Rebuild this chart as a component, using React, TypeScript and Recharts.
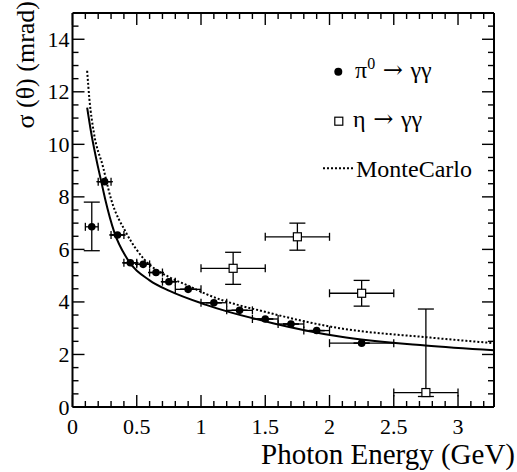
import { ComposedChart, Line, Scatter, ErrorBar, XAxis, YAxis } from "recharts";

// pi0 -> gamma gamma
const PI0_E = [0.15, 0.25, 0.35, 0.45, 0.55, 0.65, 0.75, 0.9, 1.1, 1.3, 1.5, 1.7, 1.9, 2.25];
const PI0_SIGMA = [6.86, 8.58, 6.55, 5.49, 5.43, 5.12, 4.77, 4.48, 3.97, 3.68, 3.35, 3.16, 2.91, 2.43];
const PI0_DE = [0.05, 0.05, 0.05, 0.05, 0.05, 0.05, 0.05, 0.1, 0.1, 0.1, 0.1, 0.1, 0.1, 0.25];
const PI0_DSIGMA_LO = [0.91, 0, 0, 0, 0, 0, 0, 0, 0, 0, 0, 0, 0, 0];
const PI0_DSIGMA_HI = [0.94, 0, 0, 0, 0, 0, 0, 0, 0, 0, 0, 0, 0, 0];

// eta -> gamma gamma
const ETA_E = [1.25, 1.75, 2.25, 2.75];
const ETA_SIGMA = [5.28, 6.48, 4.33, 0.55];
const ETA_DE = [0.25, 0.25, 0.25, 0.25];
const ETA_DSIGMA_LO = [0.61, 0.51, 0.49, 0.15];
const ETA_DSIGMA_HI = [0.61, 0.52, 0.49, 3.18];

// fit (solid) and MonteCarlo (dotted)
const FIT_E = [0.114, 0.145, 0.197, 0.224, 0.254, 0.327, 0.43, 0.6, 0.755, 1.04, 1.559, 2.078, 2.745, 3.28];
const FIT_SIGMA = [11.4, 10.45, 9.17, 8.58, 7.92, 6.63, 5.61, 4.82, 4.42, 3.89, 3.19, 2.68, 2.34, 2.16];
const MC_E = [0.114, 0.132, 0.166, 0.236, 0.301, 0.418, 0.56, 0.75, 0.9, 1.04, 1.559, 2.078, 2.745, 3.28];
const MC_SIGMA = [12.8, 11.7, 10.45, 9.17, 7.9, 6.63, 5.61, 4.95, 4.62, 4.3, 3.55, 3.0, 2.66, 2.43];

const X_TICKS = [
  0, 0.1, 0.2, 0.3, 0.4, 0.5, 0.6, 0.7, 0.8, 0.9, 1, 1.1, 1.2, 1.3, 1.4, 1.5, 1.6,
  1.7, 1.8, 1.9, 2, 2.1, 2.2, 2.3, 2.4, 2.5, 2.6, 2.7, 2.8, 2.9, 3, 3.1, 3.2,
];
const X_MAJOR = [0, 0.5, 1, 1.5, 2, 2.5, 3];
const X_LABELS = ["0", "0.5", "1", "1.5", "2", "2.5", "3"];
const Y_TICKS = [
  0, 0.5, 1, 1.5, 2, 2.5, 3, 3.5, 4, 4.5, 5, 5.5, 6, 6.5, 7, 7.5, 8, 8.5, 9, 9.5,
  10, 10.5, 11, 11.5, 12, 12.5, 13, 13.5, 14, 14.5,
];
const Y_MAJOR = [0, 2, 4, 6, 8, 10, 12, 14];
const Y_LABELS = ["0", "2", "4", "6", "8", "10", "12", "14"];

const FONT = "'Liberation Serif', 'DejaVu Serif', serif";
const ARROW_FONT = "'DejaVu Serif', serif";
const TXT = { fontFamily: FONT };
const MAJOR_LEN = 12;
const MINOR_LEN = 6;

const pi0Data = PI0_E.map((x, i) => ({
  x, y: PI0_SIGMA[i], ex: PI0_DE[i], ey: [PI0_DSIGMA_LO[i], PI0_DSIGMA_HI[i]],
}));
const etaData = ETA_E.map((x, i) => ({
  x, y: ETA_SIGMA[i], ex: ETA_DE[i], ey: [ETA_DSIGMA_LO[i], ETA_DSIGMA_HI[i]],
}));
const fitData = FIT_E.map((x, i) => ({ x, y: FIT_SIGMA[i] }));
const mcData = MC_E.map((x, i) => ({ x, y: MC_SIGMA[i] }));

const makeXTick = (side: "bottom" | "top") => (props: any) => {
  const { x, y, payload } = props;
  const idx = X_MAJOR.indexOf(payload.value);
  const len = idx >= 0 ? MAJOR_LEN : MINOR_LEN;
  return (
    <g>
      <line x1={x} x2={x} y1={y} y2={side === "bottom" ? y - len : y + len} stroke="#000" strokeWidth={1.4} />
      {side === "bottom" && idx >= 0 && (
        <text x={x} y={y + 27} textAnchor="middle" style={TXT} fontSize={22} fill="#000">
          {X_LABELS[idx]}
        </text>
      )}
    </g>
  );
};

const makeYTick = (side: "left" | "right") => (props: any) => {
  const { x, y, payload } = props;
  const idx = Y_MAJOR.indexOf(payload.value);
  const len = idx >= 0 ? MAJOR_LEN : MINOR_LEN;
  return (
    <g>
      <line x1={x} x2={side === "left" ? x + len : x - len} y1={y} y2={y} stroke="#000" strokeWidth={1.4} />
      {side === "left" && idx >= 0 && (
        <text x={x - 3} y={y + 7.5} textAnchor="end" style={TXT} fontSize={22} fill="#000">
          {Y_LABELS[idx]}
        </text>
      )}
    </g>
  );
};

const FilledDot = (p: any) => <circle cx={p.cx} cy={p.cy} r={3.8} fill="#000" />;
const OpenBox = (p: any) => (
  <rect x={p.cx - 4} y={p.cy - 4} width={8} height={8} fill="#fff" stroke="#000" strokeWidth={1.2} />
);

const axisLine = { stroke: "#000", strokeWidth: 2 };

const App = () => (
  <div style={{ position: "absolute", left: 0, top: 0, width: 517, height: 472, background: "#fff" }}>
    <ComposedChart width={517} height={472} margin={{ top: 12, right: 22, bottom: 64, left: 71.5 }}>
      <XAxis
        xAxisId="b" dataKey="x" type="number" domain={[0, 3.28]} allowDataOverflow
        ticks={X_TICKS} interval={0} tickSize={0} tickMargin={0} height={1}
        axisLine={axisLine} tickLine={false} tick={makeXTick("bottom")}
      />
      <XAxis
        xAxisId="t" orientation="top" dataKey="x" type="number" domain={[0, 3.28]} allowDataOverflow
        ticks={X_TICKS} interval={0} tickSize={0} tickMargin={0} height={1}
        axisLine={axisLine} tickLine={false} tick={makeXTick("top")}
      />
      <YAxis
        yAxisId="l" type="number" domain={[0, 15]} allowDataOverflow
        ticks={Y_TICKS} interval={0} tickSize={0} tickMargin={0} width={1}
        axisLine={axisLine} tickLine={false} tick={makeYTick("left")}
      />
      <YAxis
        yAxisId="r" orientation="right" type="number" domain={[0, 15]} allowDataOverflow
        ticks={Y_TICKS} interval={0} tickSize={0} tickMargin={0} width={1}
        axisLine={axisLine} tickLine={false} tick={makeYTick("right")}
      />
      <Line
        xAxisId="b" yAxisId="l" data={fitData} dataKey="y" type="monotone"
        stroke="#000" strokeWidth={2} dot={false} isAnimationActive={false}
      />
      <Line
        xAxisId="b" yAxisId="l" data={mcData} dataKey="y" type="monotone"
        stroke="#000" strokeWidth={2} strokeDasharray="2 2" dot={false} isAnimationActive={false}
      />
      <Scatter xAxisId="b" yAxisId="l" data={pi0Data} dataKey="y" shape={FilledDot} isAnimationActive={false}>
        <ErrorBar dataKey="ex" direction="x" width={4} stroke="#000" strokeWidth={1.3} isAnimationActive={false} />
        <ErrorBar dataKey="ey" direction="y" width={8} stroke="#000" strokeWidth={1.3} isAnimationActive={false} />
      </Scatter>
      <Scatter xAxisId="b" yAxisId="l" data={etaData} dataKey="y" shape={OpenBox} isAnimationActive={false}>
        <ErrorBar dataKey="ex" direction="x" width={4} stroke="#000" strokeWidth={1.3} isAnimationActive={false} />
        <ErrorBar dataKey="ey" direction="y" width={8} stroke="#000" strokeWidth={1.3} isAnimationActive={false} />
      </Scatter>
    </ComposedChart>
    <svg
      width={517} height={472}
      style={{ position: "absolute", left: 0, top: 0, pointerEvents: "none", fontFamily: FONT }}
      fill="#000"
    >
      <circle cx={338.3} cy={71.7} r={4} fill="#000" />
      <text x={355} y={78} fontSize={24} style={TXT}>
        π<tspan fontSize={16} dy={-9}>0</tspan>
        <tspan dy={9} style={{ fontFamily: ARROW_FONT }}> → </tspan>
        <tspan>γγ</tspan>
      </text>
      <rect x={334.8} y={117.2} width={8} height={8} fill="#fff" stroke="#000" strokeWidth={1.2} />
      <text x={353} y={127} fontSize={24} style={TXT}>
        η<tspan style={{ fontFamily: ARROW_FONT }}> → </tspan>γγ
      </text>
      <line x1={323} x2={355} y1={168.3} y2={168.3} stroke="#000" strokeWidth={2} strokeDasharray="2 2" />
      <text x={356} y={177} fontSize={24} style={TXT}>MonteCarlo</text>
      <text x={515} y={464} fontSize={29} textAnchor="end" style={TXT}>Photon Energy (GeV)</text>
      <text transform="translate(34, 1) rotate(-90)" fontSize={26} textAnchor="end" style={TXT}>σ (θ) (mrad)</text>
    </svg>
  </div>
);

export default App;
